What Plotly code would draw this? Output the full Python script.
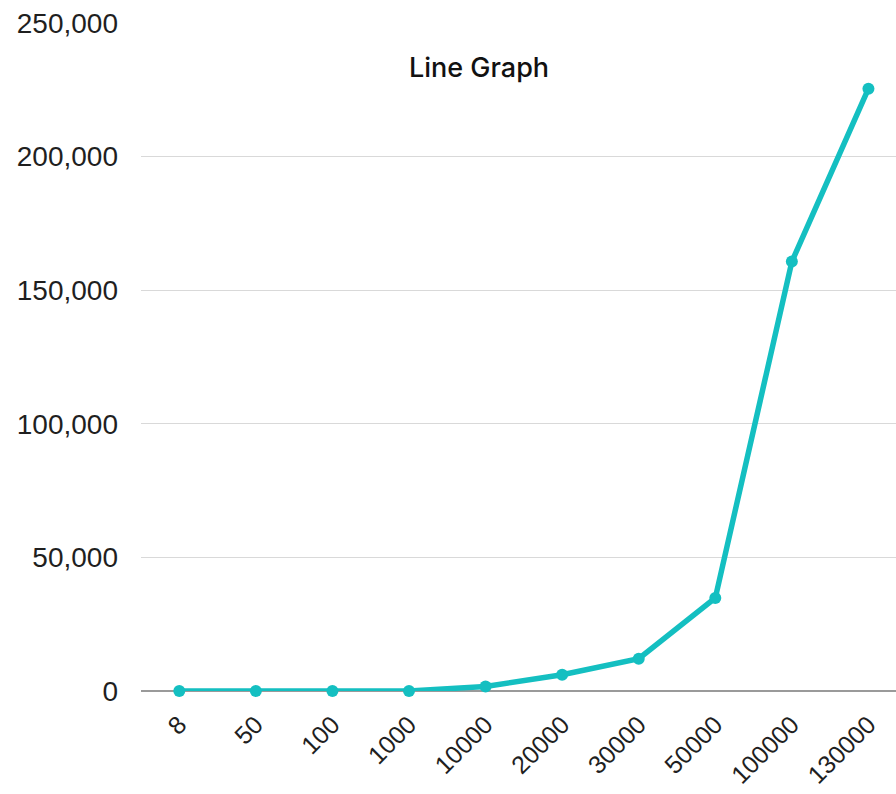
import plotly.graph_objects as go

# Category labels along the x axis and the measured values
categories = ["8", "50", "100", "1000", "10000", "20000", "30000", "50000", "100000", "130000"]
values = [0, 0, 0, 0, 1700, 6100, 12100, 34800, 160700, 225400]

y_tick_values = [0, 50000, 100000, 150000, 200000, 250000]

LINE_COLOR = "#14BFC1"
TEXT_COLOR = "#1f1f1f"

fig = go.Figure(
    go.Scatter(
        x=categories,
        y=values,
        mode="lines+markers",
        line=dict(color=LINE_COLOR, width=5.5),
        marker=dict(color=LINE_COLOR, size=12),
        showlegend=False,
        cliponaxis=False,
    )
)

fig.update_layout(
    width=896,
    height=794,
    margin=dict(l=141, r=0, t=23, b=103),
    paper_bgcolor="white",
    plot_bgcolor="white",
    title=dict(
        text="Line Graph",
        x=479 / 896,
        xref="container",
        xanchor="center",
        y=1 - 68 / 794,
        yref="container",
        yanchor="middle",
        font=dict(family="Inter, Lato, sans-serif", size=27, color="#111111", weight=500),
    ),
)

fig.update_xaxes(
    type="category",
    range=[-0.5, 9.36],
    automargin=False,
    tickangle=-45,
    tickfont=dict(family="Liberation Sans, Arial, sans-serif", size=25, color=TEXT_COLOR),
    showgrid=False,
    showline=False,
    ticks="",
    ticklabelstandoff=13,
)

fig.update_yaxes(
    range=[0, 250000],
    automargin=False,
    tickvals=y_tick_values,
    tickformat=",d",
    tickfont=dict(family="Liberation Sans, Arial, sans-serif", size=28, color=TEXT_COLOR),
    showgrid=True,
    gridcolor="#d9d9d9",
    gridwidth=1,
    zeroline=True,
    zerolinecolor="#9a9a9a",
    zerolinewidth=1.5,
    showline=False,
    ticks="",
    ticklabelstandoff=22,
)

fig.write_html("out.html")
